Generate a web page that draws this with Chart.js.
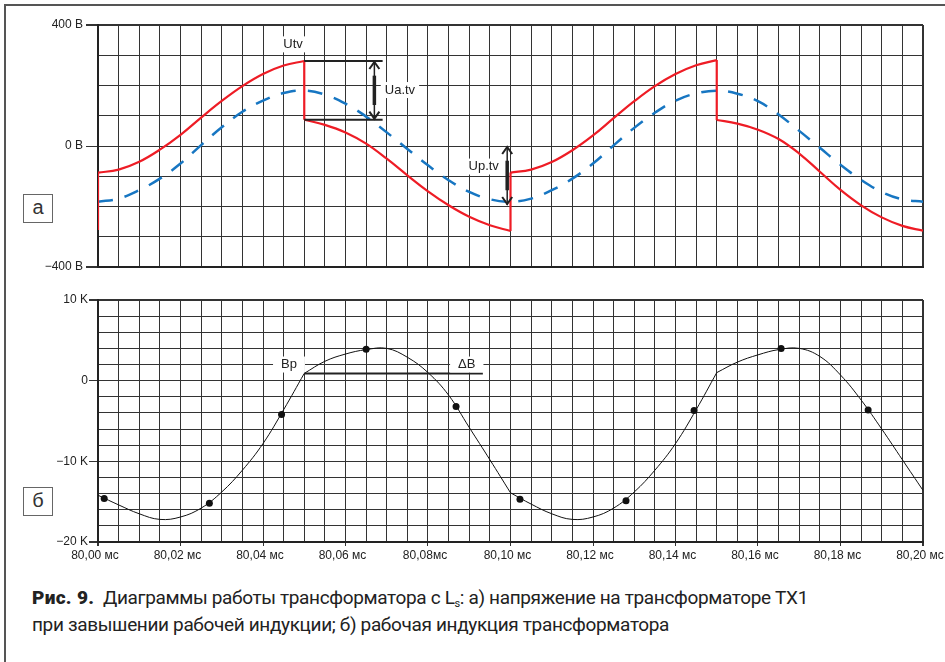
<!DOCTYPE html>
<html>
<head>
<meta charset="utf-8">
<script src="https://cdn.jsdelivr.net/npm/chart.js@4.4.1/dist/chart.umd.min.js"></script>
<style>
  body { margin: 0; width: 945px; height: 662px; overflow: hidden; position: relative; background: #fff; font-family: "Liberation Sans", Arial, sans-serif; }
  .frame { position: absolute; left: 4px; top: 4px; width: 1000px; height: 700px; border-left: 2px solid #555; border-top: 2px solid #555; }
  .chart { position: absolute; left: 0; }
  .tag { position: absolute; left: 23px; width: 28px; height: 27px; border: 1px solid #666; color: #333; font-size: 20px; line-height: 25px; text-align: center; background: #fff; }
  .caption { position: absolute; left: 32px; top: 584px; font-family: Roboto, sans-serif; font-size: 19px; line-height: 27px; letter-spacing: -0.35px; color: #222; white-space: nowrap; }
  .caption b { font-weight: 900; letter-spacing: 0.3px; }
  .caption sub { font-size: 11px; vertical-align: -3px; line-height: 0; }
</style>
</head>
<body>
<div class="frame"></div>
<canvas id="topChart" class="chart" style="top:0" width="945" height="290"></canvas>
<canvas id="bottomChart" class="chart" style="top:290px" width="945" height="290"></canvas>
<div class="tag" style="top:194px">а</div>
<div class="tag" style="top:487px">б</div>
<div class="caption"><b>Рис. 9.</b>&nbsp; Диаграммы работы трансформатора с L<sub>s</sub>: а) напряжение на трансформаторе TX1<br>при завышении рабочей индукции; б) рабочая индукция трансформатора</div>
<script>
// time axis, ms (every grid step)
const times = [80.000, 80.005, 80.010, 80.015, 80.020, 80.025, 80.030, 80.035, 80.040, 80.045,
               80.050, 80.055, 80.060, 80.065, 80.070, 80.075, 80.080, 80.085, 80.090, 80.095,
               80.100, 80.105, 80.110, 80.115, 80.120, 80.125, 80.130, 80.135, 80.140, 80.145,
               80.150, 80.155, 80.160, 80.165, 80.170, 80.175, 80.180, 80.185, 80.190, 80.195, 80.200];

// (a) dashed blue voltage, V
const blueV = [-184, -174, -146, -108, -58, 3, 62, 113, 150, 175,
               183, 170, 140, 97, 45, -10, -64, -113, -152, -176,
               -184, -174, -146, -108, -58, 2, 60, 110, 150, 174,
               183, 173, 148, 104, 50, -6, -62, -112, -152, -176, -184];

// (a) red Utv, V — repeated time = vertical jump
const redT = [80.000, 80.000, 80.005, 80.010, 80.015, 80.020, 80.025, 80.030, 80.035, 80.040, 80.045, 80.050,
              80.050, 80.055, 80.060, 80.065, 80.070, 80.075, 80.080, 80.085, 80.090, 80.095, 80.100,
              80.100, 80.105, 80.110, 80.115, 80.120, 80.125, 80.130, 80.135, 80.140, 80.145, 80.150,
              80.150, 80.155, 80.160, 80.165, 80.170, 80.175, 80.180, 80.185, 80.190, 80.195, 80.200];
const redV = [-278, -88, -78, -52, -12, 37, 94, 149, 198, 238, 266, 281,
              87, 70, 45, 8, -42, -97, -150, -196, -234, -262, -281,
              -88, -78, -53, -14, 35, 92, 148, 198, 238, 267, 284,
              86, 74, 54, 23, -25, -85, -145, -196, -236, -264, -280];

// (б) induction, K
const bV = [-14.2, -15.4, -16.5, -17.2, -16.9, -15.8, -13.8, -11.1, -7.8, -3.6,
            0.9, 2.4, 3.3, 3.85, 4.0, 2.9, 1.0, -1.8, -5.8, -9.8,
            -13.9, -15.3, -16.5, -17.2, -16.9, -15.8, -13.8, -11.1, -7.8, -3.6,
            1.0, 2.3, 3.2, 3.85, 4.0, 3.0, 0.7, -2.4, -6.0, -9.8, -13.6];
const bKinks = [80.05, 80.10, 80.15];
const dotT = [80.0015, 80.027, 80.0445, 80.065, 80.0868, 80.1023, 80.128, 80.1445, 80.1656, 80.1867];
const dotV = [-14.6, -15.2, -4.2, 3.9, -3.2, -14.7, -14.9, -3.7, 4.0, -3.65];

// tick labels
const topYTicks = { '400': '400 B', '0': '0 B', '-400': '−400 B' };
const botYTicks = { '10': '10 K', '0': '0', '-10': '−10 K', '-20': '−20 K' };
const xTickVals = [80.00, 80.02, 80.04, 80.06, 80.08, 80.10, 80.12, 80.14, 80.16, 80.18, 80.20];
const xTickLabels = ['80,00 мс', '80,02 мс', '80,04 мс', '80,06 мс', '80,08мс', '80,10 мс',
                     '80,12 мс', '80,14 мс', '80,16 мс', '80,18 мс', '80,20 мс'];

const GRID = '#333';
const TXT = '#222';
const tickFont = { family: '"Liberation Sans", Arial, sans-serif', size: 12 };

function xLabel(v) {
  const i = xTickVals.findIndex(t => Math.abs(t - v) < 1e-6);
  return i < 0 ? '' : xTickLabels[i];
}

// split red into smooth pieces and vertical jumps
const redSmooth = [], redJumps = [];
let seg = [];
for (let i = 0; i < redT.length; i++) {
  const p = { x: redT[i], y: redV[i] };
  if (i > 0 && redT[i] === redT[i - 1]) {
    if (seg.length > 1) redSmooth.push(seg);
    redJumps.push({ x: redT[i - 1], y: redV[i - 1] }, p, { x: redT[i], y: null });
    seg = [{ x: redT[i], y: redV[i] }];
  } else {
    seg.push(p);
  }
}
if (seg.length > 1) redSmooth.push(seg);

// split induction curve at its corners
const bSegs = [];
seg = [];
times.forEach((t, i) => {
  seg.push({ x: t, y: bV[i] });
  if (bKinks.some(k => Math.abs(k - t) < 1e-6)) {
    bSegs.push(seg);
    seg = [{ x: t, y: bV[i] }];
  }
});
bSegs.push(seg);

// annotations: lines, arrows, boxed labels
const notes = {
  id: 'notes',
  afterDatasetsDraw(chart, args, opts) {
    const { ctx } = chart;
    const x = chart.scales.x, y = chart.scales.y;
    ctx.save();
    ctx.strokeStyle = '#222';
    (opts.lines || []).forEach(l => {
      ctx.lineWidth = 2;
      ctx.beginPath();
      ctx.moveTo(x.getPixelForValue(l.t0), y.getPixelForValue(l.v));
      ctx.lineTo(x.getPixelForValue(l.t1), y.getPixelForValue(l.v));
      ctx.stroke();
    });
    (opts.arrows || []).forEach(a => {
      const px = x.getPixelForValue(a.t);
      const y0 = y.getPixelForValue(a.v0), y1 = y.getPixelForValue(a.v1);
      const top = Math.min(y0, y1), bot = Math.max(y0, y1);
      ctx.lineWidth = 1.5;
      ctx.beginPath();
      ctx.moveTo(px, top); ctx.lineTo(px, bot);
      ctx.stroke();
      ctx.lineWidth = 3.5;
      ctx.beginPath();
      ctx.moveTo(px, top + (bot - top) * 0.25); ctx.lineTo(px, bot - (bot - top) * 0.25);
      ctx.stroke();
      ctx.lineWidth = 2;
      ctx.beginPath();
      ctx.moveTo(px - 5, top + 8); ctx.lineTo(px, top + 1); ctx.lineTo(px + 5, top + 8);
      ctx.moveTo(px - 5, bot - 8); ctx.lineTo(px, bot - 1); ctx.lineTo(px + 5, bot - 8);
      ctx.stroke();
    });
    ctx.font = '13px "Liberation Sans", Arial, sans-serif';
    ctx.textAlign = 'center';
    ctx.textBaseline = 'middle';
    (opts.labels || []).forEach(l => {
      const px = x.getPixelForValue(l.t), py = y.getPixelForValue(l.v);
      const w = ctx.measureText(l.text).width;
      ctx.fillStyle = '#fff';
      ctx.fillRect(px - w / 2 - (l.pad || 4), py - 8, w + 2 * (l.pad || 4), 16);
      ctx.fillStyle = TXT;
      ctx.fillText(l.text, px, py);
    });
    ctx.restore();
  }
};

function edgeWidth(c) {
  const n = c.scale.ticks.length;
  return (c.index === 0 || c.index === n - 1) ? 2 : 1;
}

function xScale(showLabels) {
  return {
    type: 'linear', min: 80, max: 80.2,
    grid: {
      color: GRID, lineWidth: edgeWidth,
      drawTicks: showLabels, tickLength: 4,
      tickColor: c => xLabel(c.tick.value) ? GRID : 'rgba(0,0,0,0)'
    },
    border: { color: '#222', width: 2 },
    ticks: {
      display: showLabels, stepSize: 0.005, autoSkip: false, maxRotation: 0,
      padding: 2, color: TXT, font: tickFont, labelOffset: -3,
      callback: v => xLabel(v)
    },
    afterFit: s => { s.height = showLabels ? 38 : 0; s.paddingLeft = 0; s.paddingRight = 0; }
  };
}

function yScale(min, max, step, labels, tickLen, pad) {
  return {
    min: min, max: max,
    grid: {
      color: GRID, lineWidth: edgeWidth, tickLength: tickLen,
      tickColor: c => labels[String(c.tick.value)] !== undefined ? GRID : 'rgba(0,0,0,0)'
    },
    border: { color: '#222', width: 2 },
    ticks: {
      stepSize: step, autoSkip: false, padding: pad, color: TXT, font: tickFont,
      callback: v => labels[String(v)] !== undefined ? labels[String(v)] : ''
    },
    afterFit: s => { s.width = 98; s.paddingTop = 0; s.paddingBottom = 0; }
  };
}

const common = {
  responsive: false,
  animation: false,
  events: [],
  plugins: { legend: { display: false }, tooltip: { enabled: false } },
  elements: { point: { radius: 0 } }
};

// chart (a)
const topSets = redSmooth.map(s => ({
  data: s, borderColor: '#ee1c25', borderWidth: 2.2, tension: 0.4, order: 0
}));
topSets.push({ data: redJumps, borderColor: '#ee1c25', borderWidth: 2.2, tension: 0, spanGaps: false, order: 0 });
topSets.push({
  data: times.map((t, i) => ({ x: t, y: blueV[i] })),
  borderColor: '#1776c2', borderWidth: 2.5, borderDash: [15, 12],
  tension: 0.4, order: 1
});

new Chart(document.getElementById('topChart'), {
  type: 'line',
  data: { datasets: topSets },
  options: Object.assign({}, common, {
    layout: { padding: { top: 25, right: 22, bottom: 23, left: 0 } },
    scales: { x: xScale(false), y: yScale(-400, 400, 100, topYTicks, 12, 3) },
    plugins: Object.assign({}, common.plugins, {
      notes: {
        lines: [{ t0: 80.05, t1: 80.069, v: 281 }, { t0: 80.05, t1: 80.069, v: 87 }],
        arrows: [{ t: 80.067, v0: 281, v1: 87 }, { t: 80.0992, v0: 0, v1: -195 }],
        labels: [
          { text: 'Utv', t: 80.0473, v: 336 },
          { text: 'Ua.tv', t: 80.0732, v: 185 },
          { text: 'Up.tv', t: 80.0935, v: -68 }
        ]
      }
    })
  }),
  plugins: [notes]
});

// chart (б)
const botSets = [{
  data: dotT.map((t, i) => ({ x: t, y: dotV[i] })),
  showLine: false, pointRadius: 3.5, pointBackgroundColor: '#111', pointBorderWidth: 0, order: 0
}];
bSegs.forEach(s => botSets.push({
  data: s, borderColor: '#111', borderWidth: 1, tension: 0.4, order: 1
}));

new Chart(document.getElementById('bottomChart'), {
  type: 'line',
  data: { datasets: botSets },
  options: Object.assign({}, common, {
    layout: { padding: { top: 10, right: 22, bottom: 0, left: 0 } },
    scales: { x: xScale(true), y: yScale(-20, 10, 2, botYTicks, 9, 1) },
    plugins: Object.assign({}, common.plugins, {
      notes: {
        lines: [{ t0: 80.05, t1: 80.0933, v: 0.9 }],
        labels: [
          { text: 'Bp', t: 80.0463, v: 2, pad: 8 },
          { text: 'ΔB', t: 80.0894, v: 2, pad: 8 }
        ]
      }
    })
  }),
  plugins: [notes]
});
</script>
</body>
</html>
